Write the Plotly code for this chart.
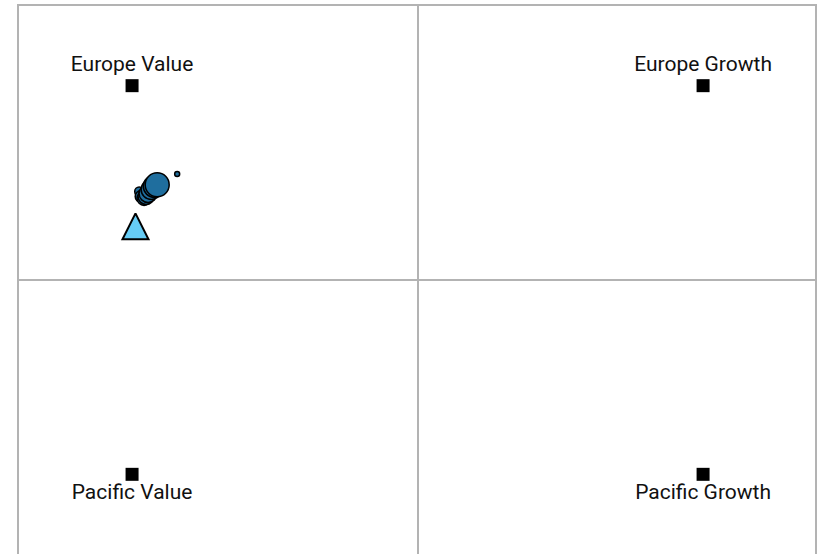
import plotly.graph_objects as go

# Style corners
corner_names = ["Europe Value", "Europe Growth", "Pacific Value", "Pacific Growth"]
corner_x = [-1, 1, -1, 1]
corner_y = [1, 1, -1, -1]
corner_pos = ["top center", "top center", "bottom center", "bottom center"]

# Rolling style points
roll_x = [-0.842, -0.975, -0.968, -0.958, -0.951, -0.944, -0.933, -0.922, -0.912]
roll_y = [0.546, 0.455, 0.430, 0.420, 0.430, 0.445, 0.466, 0.482, 0.490]
roll_size = [5, 9, 12, 14, 16, 18, 20, 22, 24]

# Benchmark
bench_x = [-0.988]
bench_y = [0.276]

fig = go.Figure()
fig.add_trace(go.Scatter(
    x=corner_x, y=corner_y, mode="markers+text", text=corner_names,
    textposition=corner_pos,
    textfont=dict(family="Roboto", size=21, color="#111"),
    marker=dict(symbol="square", size=13, color="black"),
    showlegend=False, hoverinfo="text"))
fig.add_trace(go.Scatter(
    x=roll_x, y=roll_y, mode="markers",
    marker=dict(size=roll_size, color="#1f6e9e", opacity=1, line=dict(color="black", width=1.5)),
    showlegend=False))
fig.add_trace(go.Scatter(
    x=bench_x, y=bench_y, mode="markers",
    marker=dict(symbol="arrow-down", angle=180, standoff=13, size=26, color="#66ccf5",
                line=dict(color="black", width=2)),
    showlegend=False))

axis_common = dict(showgrid=False, zeroline=True, zerolinecolor="#b3b3b3", zerolinewidth=2,
                   showline=True, linecolor="#b3b3b3", linewidth=2, mirror=True,
                   showticklabels=False, ticks="", fixedrange=True)
fig.update_layout(
    width=817, height=554,
    margin=dict(l=19, r=2, t=6, b=0),
    paper_bgcolor="white", plot_bgcolor="white",
    xaxis=dict(range=[-1.396, 1.392], **axis_common),
    yaxis=dict(range=[-1.41, 1.41], **axis_common),
)
fig.write_html("out.html", config={"displayModeBar": False},
               post_script="document.body.style.margin='0';")
